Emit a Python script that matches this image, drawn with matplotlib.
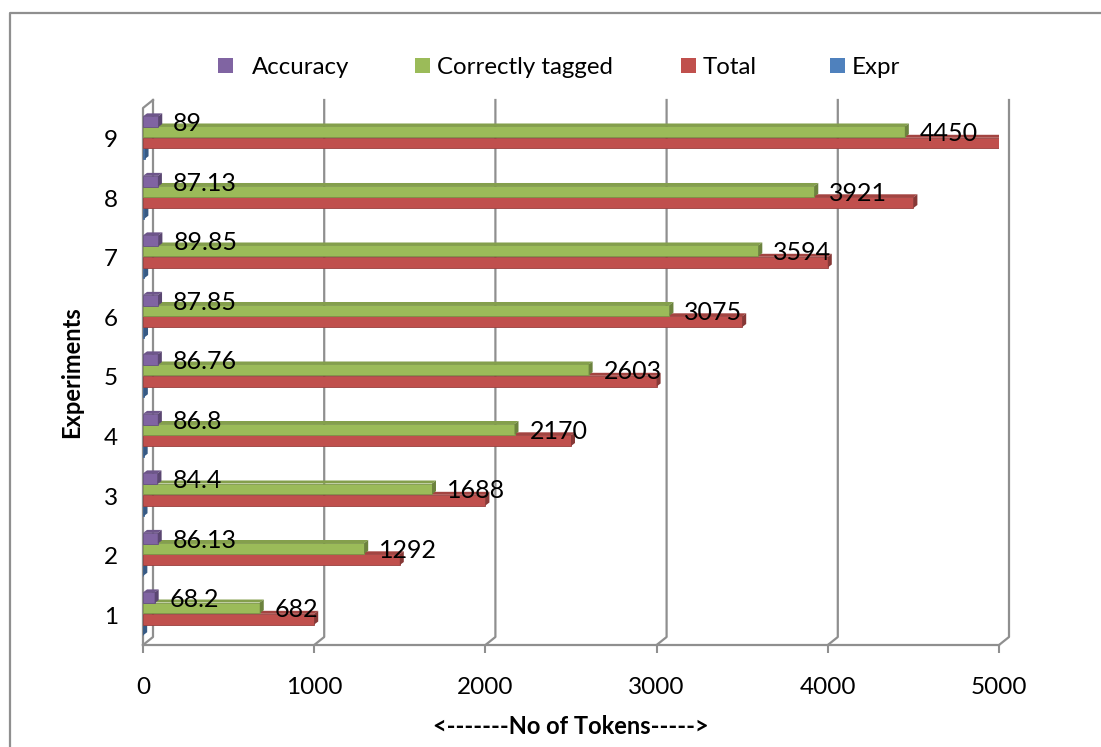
import matplotlib
matplotlib.use('Agg')
import matplotlib.pyplot as plt
from matplotlib.patches import Polygon, Rectangle
import matplotlib.colors as mcolors

# ---------------- data ----------------
experiments = [1, 2, 3, 4, 5, 6, 7, 8, 9]
expr = [1, 2, 3, 4, 5, 6, 7, 8, 9]
total = [1000, 1500, 2000, 2500, 3000, 3500, 4000, 4500, 5000]
correct = [682, 1292, 1688, 2170, 2603, 3075, 3594, 3921, 4450]
accuracy = [68.2, 86.13, 84.4, 86.8, 86.76, 87.85, 89.85, 87.13, 89]
series_names = ['Accuracy', 'Correctly tagged', 'Total', 'Expr']
x_ticks = [0, 1000, 2000, 3000, 4000, 5000]

plt.rcParams['font.family'] = ['Lato', 'DejaVu Sans']

W, H = 1101, 747
fig = plt.figure(figsize=(W / 100, H / 100), dpi=100)
fig.patch.set_facecolor('white')

# overlay in pixel coordinates (origin top-left)
ov = fig.add_axes([0, 0, 1, 1], zorder=0)
ov.set_xlim(0, W)
ov.set_ylim(H, 0)
ov.axis('off')

L, R, T, B = 143, 999, 100, 645
ax = fig.add_axes([L / W, 1 - B / H, (R - L) / W, (B - T) / H], zorder=1)
ax.patch.set_alpha(0)
ax.set_xlim(0, 5000)
ax.set_ylim(0.496, 9.655)
for s in ax.spines.values():
    s.set_visible(False)

sx = 5000 / (R - L)
sy = (9.655 - 0.496) / (B - T)

GRAY = '#8f8f8f'

def to_px(xd, yd):
    X, Y = ax.transData.transform((xd, yd))
    return X, H - Y

# outer border (cropped)
ov.plot([10, 10, W + 5], [H + 5, 13, 13], color=GRAY, lw=1.6, solid_capstyle='butt')

# 3-D walls / gridlines
DX, DY = 10, 8
for t in x_ticks:
    xp, _ = to_px(t, 1)
    ov.plot([xp, xp + DX, xp + DX], [B, B - DY, T], color=GRAY, lw=1.6)
x0p, _ = to_px(0, 1)
ov.plot([x0p, x0p, x0p + DX], [B, T + DY, T], color=GRAY, lw=1.6)
ov.plot([x0p, to_px(5000, 1)[0]], [B, B], color=GRAY, lw=1.6)

FS = 17.5
# ticks
ax.set_xticks(x_ticks)
ax.set_xticklabels([str(t) for t in x_ticks], fontsize=FS)
ax.tick_params(axis='x', length=6, width=1.5, color=GRAY, pad=17, labelcolor='black')
ax.set_yticks(experiments)
ax.set_yticklabels([str(e) for e in experiments], fontsize=FS)
ax.tick_params(axis='y', length=0, pad=18)

ax.set_xlabel('<-------No of Tokens----->', fontsize=17, fontweight='bold', labelpad=12)
ax.set_ylabel('Experiments', fontsize=17, fontweight='bold', labelpad=15)

colors = {'Accuracy': '#8064A2', 'Correctly tagged': '#9BBB59', 'Total': '#C0504D', 'Expr': '#4F81BD'}
values = {'Accuracy': accuracy, 'Correctly tagged': correct, 'Total': total, 'Expr': expr}
offsets = {'Accuracy': 0.29, 'Correctly tagged': 0.12, 'Total': -0.07, 'Expr': -0.25}
bh = 0.18
dx3, dy3 = 4 * sx, 3 * sy

def shade(c, f):
    r, g, b = mcolors.to_rgb(c)
    return (r * f, g * f, b * f)

z = 2
for name in ['Expr', 'Total', 'Correctly tagged', 'Accuracy']:
    c = colors[name]
    ys = [e + offsets[name] for e in experiments]
    bars = ax.barh(ys, values[name], height=bh, color=c, edgecolor=shade(c, 0.8),
                   linewidth=0.6, zorder=z)
    for r in bars.patches:
        x0, y0, w, h = r.get_x(), r.get_y(), r.get_width(), r.get_height()
        top = Polygon([(x0, y0 + h), (x0 + w, y0 + h), (x0 + w + dx3, y0 + h + dy3),
                       (x0 + dx3, y0 + h + dy3)], closed=True, facecolor=shade(c, 0.85),
                      edgecolor='none', zorder=z)
        side = Polygon([(x0 + w, y0), (x0 + w + dx3, y0 + dy3), (x0 + w + dx3, y0 + h + dy3),
                        (x0 + w, y0 + h)], closed=True, facecolor=shade(c, 0.7),
                       edgecolor='none', zorder=z)
        ax.add_patch(top)
        ax.add_patch(side)
    if name in ('Accuracy', 'Correctly tagged'):
        for v, y in zip(values[name], ys):
            ax.annotate(f'{v:g}', xy=(v, y), xytext=(15, 0), textcoords='offset pixels',
                        ha='left', va='center_baseline', fontsize=18, zorder=10)
    z += 1

# legend (manual, pixel coordinates)
leg = [('Accuracy', 225.5, 252), ('Correctly tagged', 422, 437), ('Total', 688.5, 703), ('Expr', 837.5, 852)]
for name, mx, tx in leg:
    ov.add_patch(Rectangle((mx - 7.5, 65 - 7.5), 15, 15, facecolor=colors[name], edgecolor='none'))
    ov.text(tx, 65, name, ha='left', va='center_baseline', fontsize=17.3)

fig.savefig('out.png', dpi=100, facecolor='white')
